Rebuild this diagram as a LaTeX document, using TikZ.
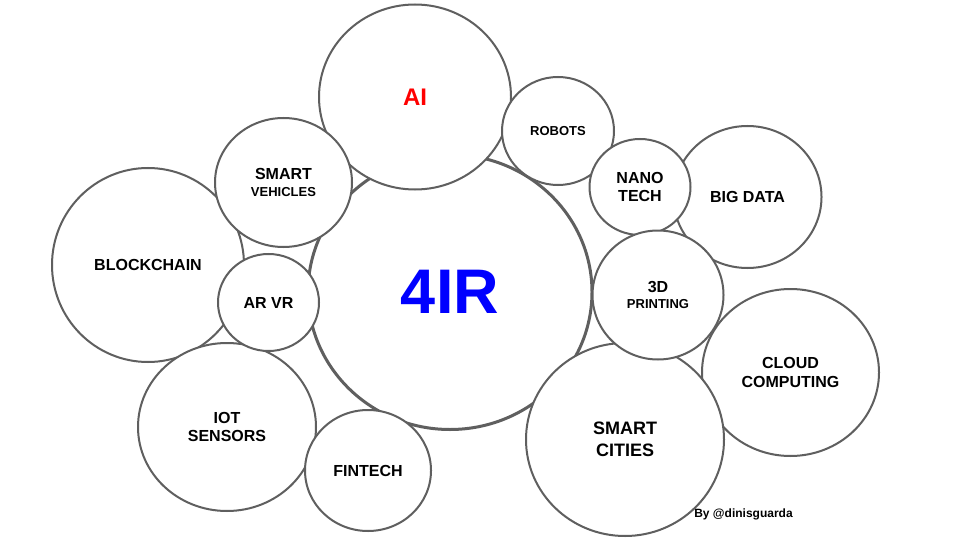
\documentclass[tikz,border=0pt]{standalone}
\usepackage{fontspec}
\setmainfont{Liberation Sans}
\usetikzlibrary{shapes.geometric}
\definecolor{bubbleline}{HTML}{5F5F5F}
\newcommand{\sizeA}{\fontsize{16}{18.5}\selectfont}
\newcommand{\sizeB}{\fontsize{13}{16}\selectfont}
\tikzset{
  bubble/.style 2 args={ellipse,draw=bubbleline,fill=white,line width=2pt,inner sep=0pt,outer sep=0pt,
    minimum width=#1pt,minimum height=#2pt,align=center,font=\sizeA\bfseries}
}
\begin{document}
\begin{tikzpicture}[x=1pt,y=-1pt]
\useasboundingbox[fill=white] (0,0) rectangle (960,540);
\node[bubble={284}{275},line width=3pt,text=blue,font=\fontsize{63}{70}\selectfont\bfseries] (fourir) at (450,292) {4IR};
\node[bubble={192}{185},text=red,font=\fontsize{24}{28}\selectfont\bfseries] (ai) at (415,97) {AI};
\node[bubble={112}{108},font=\sizeB\bfseries] (robots) at (558,131) {ROBOTS};
\node[bubble={148}{142}] (bigdata) at (747.5,197) {BIG DATA};
\node[bubble={101}{96}] (nanotech) at (640,187) {NANO\\TECH};
\node[bubble={177}{167}] (cloud) at (790.5,372.5) {CLOUD\\COMPUTING};
\node[bubble={198}{193},font=\fontsize{18}{22}\selectfont\bfseries] (cities) at (625,439.5) {SMART\\CITIES};
\node[bubble={131}{129}] (printing) at (658,295) {3D\\[-2pt]{\sizeB PRINTING}};
\node[bubble={192}{194}] (blockchain) at (148,265) {BLOCKCHAIN};
\node[bubble={137}{129}] (vehicles) at (283.5,182.5) {SMART\\[-2pt]{\sizeB VEHICLES}};
\node[bubble={178}{168}] (iot) at (227,427) {IOT\\SENSORS};
\node[bubble={101}{97}] (arvr) at (268.5,302.5) {AR VR};
\node[bubble={126}{121}] (fintech) at (368,470.5) {FINTECH};
\node[font=\fontsize{12}{14}\selectfont\bfseries,inner sep=0pt] (credit) at (743.5,514) {By @dinisguarda};
\end{tikzpicture}
\end{document}
